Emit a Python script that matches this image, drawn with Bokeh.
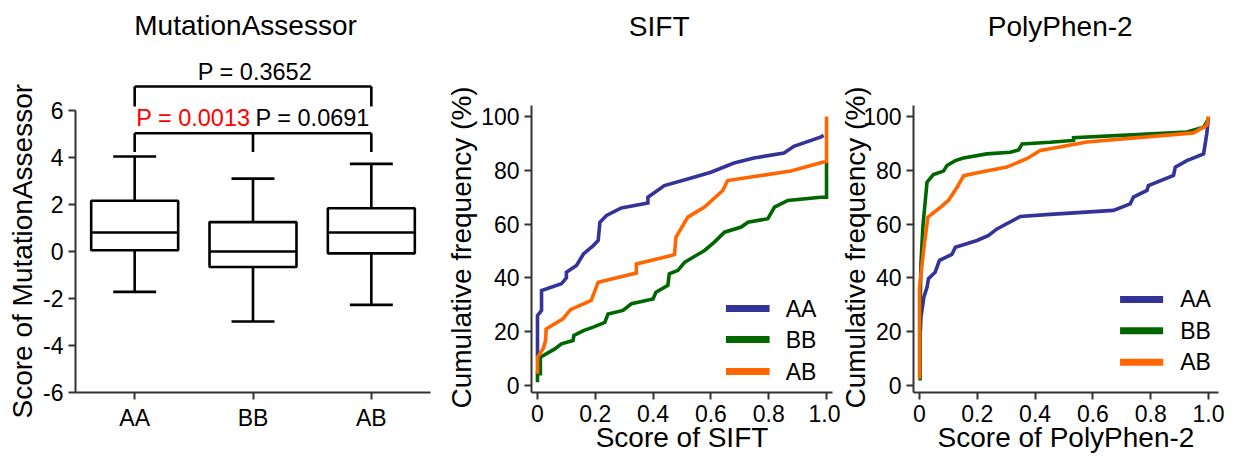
from bokeh.plotting import figure
from bokeh.models import (FactorRange, Range1d, FixedTicker, CustomJSTickFormatter,
                          ColumnDataSource, Title)
from bokeh.transform import dodge
from bokeh.layouts import row
from bokeh.embed import file_html
from bokeh.resources import INLINE
from bokeh.core.properties import value

FONT = "Liberation Sans"

# ---------------- data ----------------
groups = ["AA", "BB", "AB"]
colors = ["#333399", "#006600", "#ff6600"]

# MutationAssessor box plot
box_low = [-1.72, -2.98, -2.27]
box_q1 = [0.05, -0.66, -0.08]
box_median = [0.81, 0.0, 0.81]
box_q3 = [2.16, 1.25, 1.84]
box_high = [4.04, 3.10, 3.73]

p_text_top = "P = 0.3652"
p_text_left = "P = 0.0013"
p_text_right = "P = 0.0691"
bracket_levels = [7.02, 5.03]
bracket_drops = [6.17, 4.23]

ma_yticks = [-6, -4, -2, 0, 2, 4, 6]
ecdf_yticks = [0, 20, 40, 60, 80, 100]
ecdf_xticks = [0, 0.2, 0.4, 0.6, 0.8, 1.0]

# SIFT cumulative frequency curves
sift_aa_x = [0.0, 0.0, 0.014, 0.014, 0.083, 0.1, 0.1, 0.135, 0.159, 0.193, 0.21, 0.216, 0.239,
             0.29, 0.382, 0.382, 0.439, 0.52, 0.6, 0.68, 0.749, 0.853, 0.887, 0.979, 0.99]
sift_aa_y = [10.5, 26.0, 27.9, 35.3, 37.8, 40.0, 42.1, 44.6, 48.9, 52.0, 53.9, 60.7, 63.2,
             66.0, 67.8, 70.0, 74.3, 76.8, 79.3, 82.7, 84.6, 86.4, 88.9, 92.3, 93.0]
sift_bb_x = [0.0, 0.0, 0.01, 0.01, 0.06, 0.083, 0.123, 0.126, 0.159, 0.193, 0.233, 0.244, 0.296,
             0.325, 0.4, 0.41, 0.451, 0.456, 0.486, 0.509, 0.578, 0.612, 0.647, 0.705, 0.728,
             0.797, 0.82, 0.866, 0.98, 1.0, 1.0]
sift_bb_y = [1.2, 4.4, 4.4, 10.5, 13.6, 15.5, 16.7, 18.6, 20.4, 21.7, 23.5, 26.6, 27.9,
             30.4, 32.2, 34.7, 37.2, 41.5, 42.8, 45.8, 50.2, 53.3, 57.0, 58.9, 60.7,
             62.0, 66.3, 68.8, 70.0, 70.0, 83.0]
sift_ab_x = [0.0, 0.0, 0.02, 0.028, 0.03, 0.088, 0.114, 0.186, 0.21, 0.342, 0.342, 0.463, 0.474,
             0.479, 0.52, 0.578, 0.641, 0.658, 0.75, 0.877, 0.98, 1.0, 1.0]
sift_ab_y = [4.4, 10.5, 13.8, 16.7, 21.0, 24.8, 28.2, 31.6, 38.4, 41.8, 45.2, 48.3, 48.7,
             55.1, 62.6, 66.3, 72.5, 76.2, 77.7, 79.7, 82.8, 83.3, 100.0]

# PolyPhen-2 cumulative frequency curves
pp2_aa_x = [0.003, 0.005, 0.015, 0.026, 0.031, 0.054, 0.069, 0.112, 0.124, 0.199, 0.239, 0.268,
            0.348, 0.452, 0.671, 0.729, 0.74, 0.787, 0.792, 0.879, 0.885, 0.925, 0.983, 0.994, 1.0]
pp2_aa_y = [20.0, 25.4, 32.8, 36.5, 39.7, 42.1, 46.5, 48.7, 51.4, 53.9, 55.8, 58.2,
            62.8, 63.6, 65.1, 67.5, 70.0, 72.5, 74.3, 78.1, 81.2, 83.6, 86.1, 93.6, 99.8]
pp2_bb_x = [0.002, 0.002, 0.005, 0.012, 0.026, 0.048, 0.083, 0.095, 0.124, 0.152, 0.233, 0.314,
            0.343, 0.355, 0.452, 0.533, 0.533, 0.925, 0.983, 1.0]
pp2_bb_y = [1.9, 26.8, 45.4, 59.5, 75.6, 78.4, 79.7, 81.8, 83.6, 84.6, 86.1, 86.7,
            87.6, 89.8, 90.4, 91.1, 92.1, 94.2, 96.0, 99.1]
pp2_ab_x = [0.0, 0.0, 0.0, 0.014, 0.029, 0.066, 0.1, 0.13, 0.153, 0.21, 0.302, 0.371, 0.418,
            0.452, 0.579, 0.948, 0.994, 1.0]
pp2_ab_y = [2.5, 25.4, 36.5, 50.2, 62.6, 65.7, 68.8, 73.7, 78.0, 79.3, 81.2, 84.3, 87.4,
            88.0, 90.5, 93.9, 96.7, 100.0]

# ---------------- helpers ----------------
AX = "#333333"
H = 458
BOTTOM = 66


def style(p):
    p.grid.visible = False
    p.outline_line_color = None
    p.background_fill_color = "white"
    p.border_fill_color = "white"
    for ax in (p.xaxis[0], p.yaxis[0]):
        ax.axis_line_color = AX
        ax.axis_line_width = 2
        ax.major_tick_line_color = AX
        ax.major_tick_line_width = 2
        ax.major_tick_out = 7
        ax.major_tick_in = 0
        ax.minor_tick_line_color = None
        ax.major_label_text_font = FONT
        ax.major_label_text_font_size = "23px"
        ax.major_label_text_color = "black"
        ax.major_label_standoff = 5


def side_title(p, text, offset, standoff):
    p.add_layout(Title(text=text, align="left", vertical_align="bottom", offset=offset,
                       standoff=standoff, text_font=FONT, text_font_size="28px",
                       text_font_style="normal", text_color="black"), "left")


def text(p, x, y, s, size="28px", align="center", color="black", x_offset=0):
    p.text(x=[x], y=[y], text=[s], text_align=align, text_baseline="middle", x_offset=x_offset,
           text_font=value(FONT), text_font_size=size, text_color=color)


# ---------------- panel 1: MutationAssessor ----------------
p1 = figure(width=442, height=H, x_range=FactorRange(factors=groups),
            y_range=Range1d(-6, 10.68), output_backend="svg", toolbar_location=None,
            min_border_left=75, min_border_right=12, min_border_top=0, min_border_bottom=BOTTOM)
style(p1)
p1.yaxis[0].ticker = FixedTicker(ticks=ma_yticks)
p1.yaxis[0].formatter = CustomJSTickFormatter(code="return tick.toFixed(0)")
p1.yaxis[0].bounds = (-6, 6)
side_title(p1, "Score of MutationAssessor", -26, 6)

src = ColumnDataSource(dict(g=groups, low=box_low, q1=box_q1, med=box_median,
                            q3=box_q3, high=box_high))
BW = 0.735
CW = 0.363
LW = 2.6
p1.segment(x0="g", y0="q3", x1="g", y1="high", source=src, line_color="black", line_width=LW)
p1.segment(x0="g", y0="q1", x1="g", y1="low", source=src, line_color="black", line_width=LW)
for col in ("high", "low"):
    p1.segment(x0=dodge("g", -CW / 2, range=p1.x_range), y0=col,
               x1=dodge("g", CW / 2, range=p1.x_range), y1=col,
               source=src, line_color="black", line_width=LW)
p1.vbar(x="g", top="q3", bottom="q1", width=BW, source=src, fill_color="white",
        line_color="black", line_width=LW)
p1.segment(x0=dodge("g", -BW / 2, range=p1.x_range), y0="med",
           x1=dodge("g", BW / 2, range=p1.x_range), y1="med",
           source=src, line_color="black", line_width=LW)

# significance brackets
bx0, by0, bx1, by1 = [], [], [], []
bx0 += [groups[0], groups[0], groups[2]]
bx1 += [groups[2], groups[0], groups[2]]
by0 += [bracket_levels[0]] * 3
by1 += [bracket_levels[0], bracket_drops[0], bracket_drops[0]]
bx0 += [groups[0], groups[0], groups[1], groups[2]]
bx1 += [groups[2], groups[0], groups[1], groups[2]]
by0 += [bracket_levels[1]] * 4
by1 += [bracket_levels[1], bracket_drops[1], bracket_drops[1], bracket_drops[1]]
p1.segment(x0=bx0, y0=by0, x1=bx1, y1=by1, line_color="black", line_width=LW)

text(p1, groups[1], 7.64, p_text_top, size="23.5px", x_offset=2)
text(p1, groups[1], 5.66, p_text_left, size="23.5px", align="right", x_offset=-2.5, color="#ff0000")
text(p1, groups[1], 5.66, p_text_right, size="23.5px", align="left", x_offset=2.5)
text(p1, 1.437, 9.62, "MutationAssessor")


# ---------------- ECDF panels ----------------
def ecdf_panel(width, bl, br, xr, curves, title, title_x, xlabel, ylabel_standoff,
               leg_x0, leg_x1, leg_tx, leg_y):
    p = figure(width=width, height=H, x_range=Range1d(*xr), y_range=Range1d(-2.6, 143.12),
               output_backend="svg", toolbar_location=None,
               min_border_left=bl, min_border_right=br, min_border_top=0,
               min_border_bottom=BOTTOM)
    style(p)
    p.yaxis[0].ticker = FixedTicker(ticks=ecdf_yticks)
    p.yaxis[0].formatter = CustomJSTickFormatter(code="return tick.toFixed(0)")
    p.yaxis[0].bounds = (-2.6, 104.1)
    p.xaxis[0].ticker = FixedTicker(ticks=ecdf_xticks)
    p.xaxis[0].formatter = CustomJSTickFormatter(code="return tick == 0 ? '0' : tick.toFixed(1)")
    p.xaxis[0].axis_label = xlabel
    p.xaxis[0].axis_label_text_font = FONT
    p.xaxis[0].axis_label_text_font_size = "28px"
    p.xaxis[0].axis_label_text_font_style = "normal"
    p.xaxis[0].axis_label_text_color = "black"
    p.xaxis[0].axis_label_standoff = -3
    side_title(p, "Cumulative frequency (%)", -16, ylabel_standoff)
    for (xs, ys), c in zip(curves, colors):
        p.line(xs, ys, line_color=c, line_width=3.6, line_join="miter")
    # legend
    p.segment(x0=[leg_x0] * 3, x1=[leg_x1] * 3, y0=leg_y, y1=leg_y, line_color=colors,
              line_width=7, line_cap="butt")
    p.text(x=[leg_tx] * 3, y=leg_y, text=groups, text_baseline="middle", text_align="left",
           text_font=value(FONT), text_font_size="23px", text_color="black")
    text(p, title_x, 133.4, title)
    return p


p2 = ecdf_panel(398, 88, 8, (-0.0207, 1.0207),
                [(sift_aa_x, sift_aa_y), (sift_bb_x, sift_bb_y), (sift_ab_x, sift_ab_y)],
                "SIFT", 0.421, "Score of SIFT", 3,
                0.652, 0.803, 0.859, [28.6, 17.1, 5.2])
p3 = ecdf_panel(398, 73, 20, (-0.0208, 1.0346),
                [(pp2_aa_x, pp2_aa_y), (pp2_bb_x, pp2_bb_y), (pp2_ab_x, pp2_ab_y)],
                "PolyPhen-2", 0.487, "Score of PolyPhen-2", -21,
                0.694, 0.843, 0.902, [32.0, 20.4, 8.6])

layout = row(p1, p2, p3)
open("out.html", "w").write(file_html(layout, INLINE))
